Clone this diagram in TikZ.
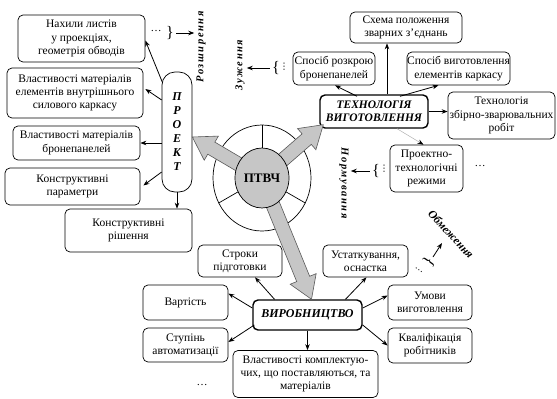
\documentclass[tikz,border=0pt]{standalone}
\usepackage{fontspec}
\setmainfont{Liberation Serif}
\newfontfamily\spcfont[LetterSpace=15]{Liberation Serif}
\newfontfamily\symfont{DejaVu Sans}
\usetikzlibrary{arrows.meta,calc,shapes.geometric}
\newcommand\bigarr[2]{%
 \coordinate (hb) at ($(#2)!22pt!(#1)$);
 \filldraw[garrow] ($(#1)!7pt!90:(#2)$) -- ($(hb)!7pt!90:(#2)$) -- ($(hb)!14pt!90:(#2)$) -- (#2) -- ($(hb)!14pt!-90:(#2)$) -- ($(hb)!7pt!-90:(#2)$) -- ($(#1)!7pt!-90:(#2)$) -- cycle;}
\begin{document}
\begin{tikzpicture}[x=1pt,y=-1pt,
 bx/.style={draw, rounded corners=5pt, fill=white, align=center, inner sep=0pt, line width=0.7pt, font=\fontsize{11.5}{13.3}\selectfont},
 mainbx/.style={bx, line width=1.4pt, font=\fontsize{12}{13.5}\selectfont\bfseries\itshape},
 arr/.style={-{Stealth[length=6pt,width=4.5pt]}, line width=0.8pt},
 side/.style={font=\spcfont\fontsize{10.5}{12}\selectfont\bfseries\itshape, inner sep=2pt},
 brc/.style={font=\fontsize{16}{16}\selectfont, inner sep=0pt},
 vd/.style={font=\symfont\fontsize{9}{9}\selectfont, inner sep=0pt},
 dts/.style={font=\fontsize{11}{12}\selectfont, inner sep=0pt},
 garrow/.style={fill=gray!45, draw=gray!70!black, line width=0.6pt, line join=miter}
]
\useasboundingbox (0,0) rectangle (557,399);

% left column (ПРОЕКТ)
\node[bx, minimum width=127pt, minimum height=47pt] (A) at (81.5,38.5) {Нахили листів\\у проекціях,\\геометрія обводів};
\node[bx, minimum width=136pt, minimum height=50pt] (B) at (75,93) {Властивості матеріалів\\елементів внутрішнього\\силового каркасу};
\node[bx, minimum width=127pt, minimum height=34pt] (C) at (76.5,143) {Властивості матеріалів\\бронепанелей};
\node[bx, minimum width=135pt, minimum height=37pt] (D) at (72.5,186.5) {Конструктивні\\параметри};
\node[bx, minimum width=127pt, minimum height=43pt] (E) at (128.5,230.5) {Конструктивні\\рішення};
\node[bx, rounded corners=13pt, minimum width=30pt, minimum height=120pt, font=\fontsize{12}{14}\selectfont\bfseries\itshape] (P) at (177,132) {П\\Р\\О\\Е\\К\\Т};

\draw[arr] ($(P.west)+(1,-49)$) -- ($(A.east)+(0,2)$);
\draw[arr] ($(P.west)+(0,-32)$) -- ($(B.east)+(2,-4)$);
\draw[arr] ($(P.west)+(0,11)$) -- (C.east);
\draw[arr] ($(P.west)+(0,40)$) -- ($(D.east)+(3,-1)$);
\draw[arr] (P.south) -- (P.south |- E.north);

% top right (ТЕХНОЛОГІЯ)
\node[mainbx, minimum width=108pt, minimum height=33pt, font=\fontsize{11.5}{13.3}\selectfont\bfseries\itshape] (T) at (374,111.5) {ТЕХНОЛОГІЯ\\ВИГОТОВЛЕННЯ};
\node[bx, minimum width=112pt, minimum height=31pt] (S1) at (406,27.5) {Схема положення\\зварних з’єднань};
\node[bx, minimum width=82pt, minimum height=33pt] (S2) at (334,68.5) {Спосіб розкрою\\бронепанелей};
\node[bx, minimum width=103pt, minimum height=33pt] (S3) at (458.5,68.5) {Спосіб виготовлення\\елементів каркасу};
\node[bx, minimum width=107pt, minimum height=47pt] (S4) at (501.5,115.5) {Технологія\\збірно-зварювальних\\робіт};
\node[bx, minimum width=73pt, minimum height=47pt] (S5) at (426.5,168.5) {Проектно-\\технологічні\\режими};
\node[dts] (dS5) at (480,166) {…};

\draw[arr] ($(T.north)+(13,0)$) -- ($(S1.south)+(-19,0)$);
\draw[arr] ($(T.north)+(-17,2)$) -- ($(S2.south)+(1,0)$);
\draw[arr] ($(T.north)+(26,2)$) -- ($(S3.south)+(-20,0)$);
\draw[arr] (T.east) -- (S4.west |- T.east);
\draw[gray!60, line width=0.5pt, -{Stealth[length=6pt,width=4.5pt,color=black]}] ($(T.south)+(23,0)$) -- ($(S5.north)+(-3,0)$);

% bottom (ВИРОБНИЦТВО)
\node[mainbx, minimum width=109pt, minimum height=30pt] (V) at (307.5,315) {ВИРОБНИЦТВО};
\node[bx, minimum width=84pt, minimum height=32pt] (V1) at (240,261) {Строки\\підготовки};
\node[bx, minimum width=85pt, minimum height=32pt] (V2) at (365.5,261) {Устаткування,\\оснастка};
\node[bx, minimum width=85pt, minimum height=35pt] (V3) at (185.5,302.5) {Вартість};
\node[bx, minimum width=85pt, minimum height=34pt] (V4) at (185.5,345) {Ступінь\\автоматизації};
\node[bx, minimum width=145pt, minimum height=47pt] (V5) at (305.5,374) {Властивості комплектую-\\чих, що поставляються, та\\матеріалів};
\node[bx, minimum width=84pt, minimum height=35pt] (V6) at (430,302.5) {Умови\\виготовлення};
\node[bx, minimum width=84pt, minimum height=35pt] (V7) at (430,345.5) {Кваліфікація\\робітників};
\node[dts] (dV) at (202,385) {…};

\draw[arr] ($(V.north)+(-33,0)$) -- ($(V1.south)+(15,0)$);
\draw[arr] ($(V.west)+(0,-7)$) -- ($(V3.east)+(0,-9)$);
\draw[arr] ($(V.west)+(2,10)$) -- ($(V4.east)+(0,-3)$);
\draw[arr] (V.south) -- (V.south |- V5.north);
\draw[arr] ($(V.north)+(38,0)$) -- ($(V2.south)+(1,0)$);
\draw[arr] ($(V.east)+(0,-7)$) -- ($(V6.west)+(0,-7)$);
\draw[arr] ($(V.east)+(0,10)$) -- (V7.west);

% centre
\coordinate (o) at (262,178);
\node[draw, ellipse, line width=0.7pt, minimum width=98pt, minimum height=106pt] (ring) at (o) {};
\coordinate (tP) at ($(P.east)+(0,5)$);
\coordinate (tT) at ($(T.south west)+(4,-4)$);
\coordinate (tV) at ($(V.north)+(4,0)$);
\bigarr{o}{tP}
\bigarr{o}{tT}
\bigarr{o}{tV}
\node[draw, ellipse, fill=gray!45, line width=0.7pt, minimum width=54pt, minimum height=60pt, inner sep=0pt, font=\fontsize{13}{13}\selectfont\bfseries] (c) at (o) {ПТВЧ};
\draw[line width=0.7pt] (c.90) -- (ring.90);
\draw[line width=0.7pt] (c.210) -- (ring.210);
\draw[line width=0.7pt] (c.330) -- (ring.330);

% side labels
\node[side, rotate=90] (rozsh) at (201,47) {Розширення};
\node[dts] (dA) at (156,31) {…};
\node[brc] (bA) at (170,33) {\}};
\draw[arr] ($(bA.east)+(2,0)$) -- (rozsh.north |- bA.east);

\node[side, rotate=90] (zuzh) at (240,65) {Зуження};
\node[brc] (bZ) at (276,68) {\{};
\node[vd] (dZ) at (284,67) {⋮};
\draw[arr] ($(bZ.west)+(-2,0)$) -- (zuzh.south |- bZ.west);

\node[side, rotate=-90] (norm) at (344,183) {Нормування};
\node[brc] (bN) at (376,171) {\{};
\node[vd] (dN) at (384,169) {⋮};
\draw[arr] ($(bN.west)+(-2,0)$) -- (norm.north |- bN.west);

\node[rotate=-47, inner sep=0pt, font=\fontsize{11.5}{12}\selectfont\bfseries\itshape] (obm) at (451,234) {Обмеження};
\node[brc, rotate=55] (bO) at (429,262) {\}};
\node[vd, rotate=55] (dO) at (419,270) {⋮};
\coordinate (obmtip) at (442,243);
\draw[arr] ($(bO)+(4,-5)$) -- (obmtip);
\end{tikzpicture}
\end{document}
